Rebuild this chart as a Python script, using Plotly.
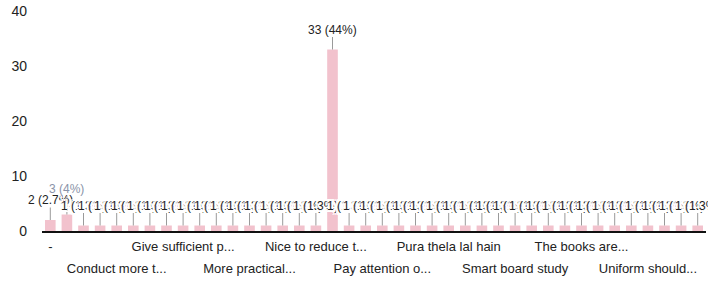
import plotly.graph_objects as go

categories = [
    "-", "All good", "Be more friendly", "Clean the classrooms",
    "Conduct more tests every month", "Discipline should be strict",
    "Extra classes for weak students", "Focus on sports too",
    "Give sufficient practice time", "Good teachers", "Improve the library",
    "Less homework please", "More practical classes", "More sports periods",
    "Need better labs", "New computers needed", "Nice to reduce the syllabus",
    "No", "Nothing", "Organise more trips", "Pay attention on weak students",
    "Please improve canteen", "Provide drinking water", "Punctuality of teachers",
    "Pura thela lal hain", "Reduce fees", "Regular parent meetings",
    "Seating arrangement", "Smart board study", "Study tours",
    "Teach with examples", "Teachers are good", "The books are very heavy",
    "Time table should change", "Toilets should be clean", "Transport facility",
    "Uniform should be changed", "Use of projectors", "Very good school",
    "Yoga classes",
]
values = [2, 3, 1, 1, 1, 1, 1, 1, 1, 1, 1, 1, 1, 1, 1, 1, 1, 33, 1, 1,
          1, 1, 1, 1, 1, 1, 1, 1, 1, 1, 1, 1, 1, 1, 1, 1, 1, 1, 1, 1]

row1_ticks = ["-", "Give sufficient practice time", "Nice to reduce the syllabus",
              "Pura thela lal hain", "The books are very heavy"]
row1_text = ["-", "Give sufficient p...", "Nice to reduce t...",
             "Pura thela lal hain", "The books are..."]
row2_ticks = ["Conduct more tests every month", "More practical classes",
              "Pay attention on weak students", "Smart board study",
              "Uniform should be changed"]
row2_text = ["Conduct more t...", "More practical...", "Pay attention o...",
             "Smart board study", "Uniform should..."]

y_ticks = [0, 10, 20, 30, 40]

total = sum(values)


def fmt(v):
    p = f"{100 * v / total:.1f}".rstrip("0").rstrip(".")
    return f"{v} ({p}%)"


FONT = "Liberation Sans, Arial, sans-serif"
BAR = "#f2c2cd"
HALO = ("2px 0 0 #fff, -2px 0 0 #fff, 0 2px 0 #fff, 0 -2px 0 #fff, "
        "2px 2px 0 #fff, -2px -2px 0 #fff, 2px -2px 0 #fff, -2px 2px 0 #fff")

fig = go.Figure()
fig.add_trace(go.Bar(x=categories, y=values, marker=dict(color=BAR, line=dict(width=0)),
                     hoverinfo="skip", showlegend=False))
fig.add_trace(go.Scatter(x=categories, y=values, xaxis="x2", mode="markers",
                         marker=dict(opacity=0), hoverinfo="skip", showlegend=False))

annotations = []
for i, v in enumerate(values):
    annotations.append(dict(
        x=categories[i], y=v, xref="x", yref="y", text=fmt(v),
        showarrow=True, arrowhead=0, arrowwidth=1, arrowcolor="#9a9a9a",
        ax=0, ay=-(26 if v == 3 else 20), standoff=0,
        font=dict(family=FONT, size=12,
                  color="#8a93a8" if v == 3 else "#222222", shadow=HALO),
        borderpad=0,
    ))

fig.update_layout(
    width=708, height=284,
    margin=dict(l=42, r=2, t=11, b=53, autoexpand=False),
    paper_bgcolor="white", plot_bgcolor="white",
    bargap=0.36,
    font=dict(family=FONT, color="#222222"),
    annotations=annotations,
    xaxis=dict(
        type="category", range=[-0.5, len(categories) - 0.5],
        showline=True, linecolor="#111111", linewidth=2,
        showgrid=False, zeroline=False, automargin=False,
        tickmode="array", tickvals=row1_ticks, ticktext=row1_text,
        ticks="", ticklabelstandoff=2,
        tickfont=dict(family=FONT, size=13, color="#222222"),
    ),
    xaxis2=dict(
        type="category", overlaying="x", matches="x", side="bottom",
        anchor="y", showline=False, showgrid=False, zeroline=False,
        automargin=False,
        tickmode="array", tickvals=row2_ticks, ticktext=row2_text,
        ticks="", ticklabelstandoff=28,
        tickfont=dict(family=FONT, size=13, color="#222222"),
    ),
    yaxis=dict(
        range=[0, 40], tickmode="array", tickvals=y_ticks,
        showgrid=False, zeroline=False, showline=False, automargin=False,
        ticks="", ticklabelstandoff=14,
        tickfont=dict(family=FONT, size=14, color="#222222"),
    ),
)

fig.write_html(
    "out.html",
    config={"displayModeBar": False, "staticPlot": True},
    post_script="document.body.style.margin='0';document.body.style.overflow='hidden';",
)
